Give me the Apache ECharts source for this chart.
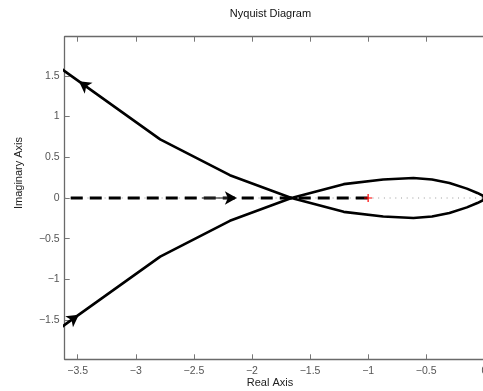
<!DOCTYPE html>
<html>
<head>
<meta charset="utf-8">
<script src="https://cdn.jsdelivr.net/npm/echarts@6/dist/echarts.min.js"></script>
<style>
  html, body { margin: 0; padding: 0; background: #fff; }
  #chart { width: 483px; height: 391px; }
</style>
</head>
<body>
<div id="chart"></div>
<script>
// Axis limits and tick positions
const xRange = [-3.612, 0];
const yRange = [-1.98, 1.98];
const xTicks = [-3.5, -3, -2.5, -2, -1.5, -1, -0.5, 0];
const yTicks = [-1.5, -1, -0.5, 0, 0.5, 1, 1.5];

// Branch coming in from the upper left, crossing the real axis, closing through the lower loop
const branchA = [
  [-3.85, 1.80], [-3.61, 1.555], [-2.79, 0.72], [-2.19, 0.28], [-1.66, 0.0],
  [-1.21, -0.17], [-0.87, -0.228], [-0.61, -0.245], [-0.45, -0.228],
  [-0.30, -0.185], [-0.15, -0.115], [-0.06, -0.062], [-0.015, -0.03], [0.0, 0.0]
];
// Branch coming in from the lower left, crossing the real axis, closing through the upper loop
const branchB = [
  [-3.85, -1.80], [-3.61, -1.555], [-2.79, -0.72], [-2.19, -0.28], [-1.66, 0.0],
  [-1.21, 0.17], [-0.87, 0.228], [-0.61, 0.245], [-0.45, 0.228],
  [-0.30, 0.185], [-0.15, 0.115], [-0.06, 0.062], [-0.015, 0.03], [0.0, 0.0]
];
// Dashed segment on the real axis up to the critical point
const dashedSeg = [[-3.56, 0], [-1, 0]];
const arrowShaft = [[-2.43, 0], [-2.16, 0]];
// Light dotted reference along the real axis
const realAxisDots = [[-3.612, 0], [0, 0]];
const criticalPoint = [[-1, 0]];
// Direction arrows: position and heading (data units)
const arrows = [
  { at: [-3.49, 1.433], dir: [-0.82, 0.835] },
  { at: [-3.49, -1.433], dir: [0.82, 0.835] },
  { at: [-2.13, 0], dir: [1, 0] }
];

const fmt = v => String(v).replace('-', '\u2212');
const tickFont = { fontFamily: 'Liberation Sans, Arial, sans-serif', fontSize: 10.5, color: '#555' };
const axisLineStyle = { color: '#6a6a6a', width: 1.3 };

const chart = echarts.init(document.getElementById('chart'), null, { renderer: 'canvas' });

function baseX(pos, showLabels) {
  return {
    type: 'value', position: pos, min: xRange[0], max: xRange[1],
    axisLine: { show: true, onZero: false, lineStyle: axisLineStyle },
    axisTick: { show: true, inside: true, length: 5, customValues: xTicks, lineStyle: { color: '#777', width: 1 } },
    axisLabel: Object.assign({ show: showLabels, customValues: xTicks, margin: 6, formatter: fmt, hideOverlap: false }, tickFont),
    splitLine: { show: false }
  };
}
function baseY(pos, showLabels, showTicks) {
  return {
    type: 'value', position: pos, min: yRange[0], max: yRange[1],
    axisLine: { show: true, onZero: false, lineStyle: axisLineStyle },
    axisTick: { show: showTicks, inside: true, length: 5, customValues: yTicks, lineStyle: { color: '#777', width: 1 } },
    axisLabel: Object.assign({ show: showLabels, customValues: yTicks, margin: 5, formatter: fmt }, tickFont),
    splitLine: { show: false }
  };
}

const option = {
  animation: false,
  backgroundColor: '#fff',
  grid: { left: 64.7, top: 36.7, right: -1.3, bottom: 31.7, containLabel: false, outerBoundsMode: 'none' },
  xAxis: [baseX('bottom', true), baseX('top', false)],
  yAxis: [baseY('left', true, true), baseY('right', false, false)],
  graphic: [
    { type: 'text', x: 270.5, y: 13.5, style: { text: 'Nyquist Diagram', fontFamily: 'Liberation Sans, Arial, sans-serif', fontSize: 11, fill: '#111', align: 'center', verticalAlign: 'middle' } },
    { type: 'text', x: 270, y: 383, style: { text: 'Real Axis', fontFamily: 'Liberation Sans, Arial, sans-serif', fontSize: 11, fill: '#222', align: 'center', verticalAlign: 'middle' } },
    { type: 'text', x: 19, y: 173, rotation: Math.PI / 2, style: { text: 'Imaginary Axis', fontFamily: 'Liberation Sans, Arial, sans-serif', fontSize: 11, fill: '#222', align: 'center', verticalAlign: 'middle' } }
  ],
  series: [
    { type: 'line', data: realAxisDots, symbol: 'none', silent: true, z: 1,
      lineStyle: { color: '#9a9a9a', width: 1, type: [1, 4.7] } },
    { type: 'line', data: dashedSeg, symbol: 'none', silent: true, z: 2,
      lineStyle: { color: '#000', width: 3, type: [12, 7] } },
    { type: 'line', data: arrowShaft, symbol: 'none', silent: true, z: 3,
      lineStyle: { color: '#333', width: 1.2 } },
    { type: 'line', data: branchA, symbol: 'none', silent: true, z: 4,
      lineStyle: { color: '#000', width: 2.6 } },
    { type: 'line', data: branchB, symbol: 'none', silent: true, z: 4,
      lineStyle: { color: '#000', width: 2.6 } },
    { type: 'scatter', id: 'arrows', data: arrows.map(a => ({ value: a.at })), symbol: 'arrow',
      symbolSize: [10, 12], itemStyle: { color: '#000', opacity: 1 }, silent: true, z: 5 },
    { type: 'scatter', data: criticalPoint, symbol: 'path://M0,5L10,5M5,0L5,10', symbolSize: 8,
      itemStyle: { color: 'rgba(0,0,0,0)', borderColor: '#ff0000', borderWidth: 1.2, opacity: 1 }, silent: true, z: 6 }
  ]
};

chart.setOption(option);

// Orient each arrowhead along its heading in screen space
const arrowData = arrows.map(a => {
  const p = chart.convertToPixel({ gridIndex: 0 }, a.at);
  const q = chart.convertToPixel({ gridIndex: 0 }, [a.at[0] + a.dir[0], a.at[1] + a.dir[1]]);
  const ang = Math.atan2(-(q[1] - p[1]), q[0] - p[0]) * 180 / Math.PI;
  return { value: a.at, symbolRotate: ang - 90 };
});
chart.setOption({ series: [{ id: 'arrows', data: arrowData }] });
</script>
</body>
</html>
